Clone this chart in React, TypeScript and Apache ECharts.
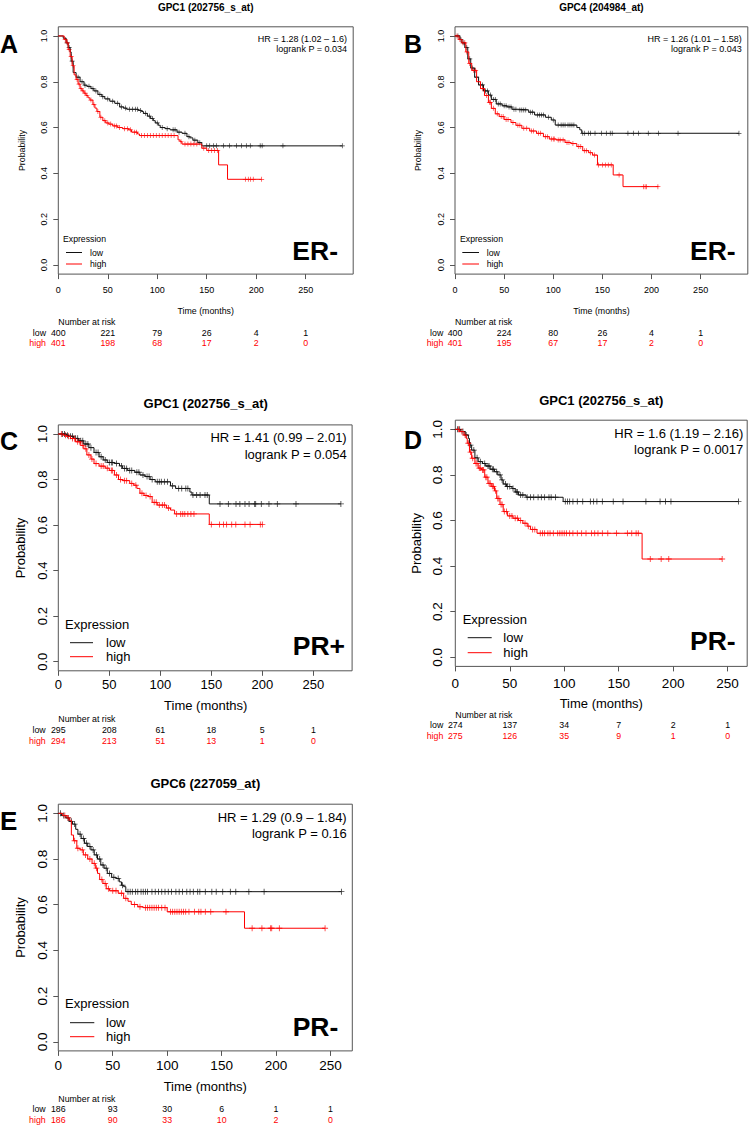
import React, { useEffect, useRef } from "react";
import * as echarts from "echarts";

const FONT = '"Liberation Sans", Arial, Helvetica, sans-serif';
const riskTimes = [0, 50, 100, 150, 200, 250];
const xTicks = [0, 50, 100, 150, 200, 250];
const yTicks = [0, 0.2, 0.4, 0.6, 0.8, 1.0];
const groupNames = ["low", "high"];

// ---------- Panel A : GPC1, ER- ----------
const aTitle = "GPC1 (202756_s_at)";
const aHR = "HR = 1.28 (1.02 – 1.6)";
const aP = "logrank P = 0.034";
const aGroup = "ER-";
const aLowT = [0, 5, 8, 10, 12, 13, 15, 18, 22, 26, 29, 33, 36, 40, 44, 47, 52, 57, 62, 66, 69, 81, 84, 86, 90, 93, 96, 98, 101, 103, 108, 113, 120, 125, 130, 133, 136, 141, 145, 287];
const aLowS = [1, 0.99, 0.97, 0.95, 0.93, 0.89, 0.84, 0.82, 0.8, 0.785, 0.78, 0.77, 0.76, 0.745, 0.735, 0.725, 0.715, 0.706, 0.69, 0.685, 0.68, 0.675, 0.67, 0.662, 0.65, 0.64, 0.63, 0.62, 0.61, 0.6, 0.595, 0.59, 0.58, 0.575, 0.56, 0.555, 0.545, 0.534, 0.52, 0.52];
const aLowC = [9, 11, 14, 20, 24, 27, 31, 35, 38, 42, 45, 50, 55, 60, 64, 68, 72, 75, 78, 80, 83, 88, 92, 95, 100, 105, 110, 116, 118, 122, 128, 132, 138, 143, 150, 153, 157, 160, 167, 173, 180, 185, 190, 194, 204, 206, 227, 287];
const aHighT = [0, 6, 8, 10, 12, 14, 16, 18, 20, 22, 24, 26, 28, 30, 32, 35, 37, 39, 42, 45, 48, 51, 55, 60, 65, 71, 74, 80, 82, 121, 123, 125, 145, 150, 162, 171, 205.5];
const aHighS = [1, 0.985, 0.97, 0.94, 0.91, 0.87, 0.83, 0.81, 0.79, 0.77, 0.76, 0.75, 0.74, 0.73, 0.72, 0.7, 0.685, 0.67, 0.645, 0.63, 0.62, 0.615, 0.607, 0.6, 0.595, 0.59, 0.58, 0.572, 0.565, 0.546, 0.538, 0.528, 0.51, 0.5, 0.437, 0.374, 0.374];
const aHighC = [7, 9, 11, 13, 15, 19, 21, 23, 25, 27, 29, 33, 36, 40, 43, 47, 50, 53, 57, 59, 62, 67, 70, 73, 77, 79, 84, 87, 90, 93, 96, 99, 102, 105, 108, 111, 114, 117, 124, 128, 131, 134, 137, 140, 147, 152, 155, 158, 161, 189, 192, 194.4, 197, 205.5];
const aLowRisk = [400, 221, 79, 26, 4, 1];
const aHighRisk = [401, 198, 68, 17, 2, 0];

// ---------- Panel B : GPC4, ER- ----------
const bTitle = "GPC4 (204984_at)";
const bHR = "HR = 1.26 (1.01 – 1.58)";
const bP = "logrank P = 0.043";
const bGroup = "ER-";
const bLowT = [0, 5, 7, 10, 13, 16, 20, 24, 29, 34, 37, 42, 48, 53, 58, 64, 75, 81, 92, 98, 102, 124, 127, 129, 289];
const bLowS = [1, 0.985, 0.97, 0.95, 0.9, 0.86, 0.82, 0.786, 0.76, 0.742, 0.723, 0.703, 0.695, 0.69, 0.68, 0.677, 0.667, 0.655, 0.645, 0.633, 0.611, 0.6, 0.59, 0.575, 0.575];
const bLowC = [3, 6, 9, 12, 15, 18, 22, 26, 28, 31, 33, 36, 39, 41, 44, 46, 50, 52, 55, 57, 60, 62, 66, 68, 70, 72, 77, 79, 84, 86, 88, 90, 95, 100, 105, 108, 110, 112, 115, 117, 119, 121, 130, 132, 135.7, 138, 142.5, 149, 154, 158, 160, 176, 181.5, 186.6, 196.7, 207, 227, 289];
const bHighT = [0, 4, 7, 11, 14, 17, 22, 26, 30, 34, 37, 41, 45, 50, 57, 62, 68, 76, 83, 90, 96, 103, 112, 118, 124, 130, 136, 140, 145, 161, 171, 207];
const bHighS = [1, 0.985, 0.97, 0.93, 0.88, 0.85, 0.8, 0.77, 0.74, 0.71, 0.684, 0.66, 0.648, 0.635, 0.622, 0.61, 0.597, 0.585, 0.575, 0.56, 0.55, 0.546, 0.535, 0.53, 0.517, 0.499, 0.49, 0.48, 0.437, 0.393, 0.342, 0.342];
const bHighC = [2, 5, 8, 10, 12, 15, 19, 21, 24, 28, 32, 35, 36, 39, 43, 47, 49, 52, 54, 59, 64, 66, 70, 73, 78, 80, 85, 87, 92, 94, 98, 100, 101, 105, 107, 110, 114, 116, 120, 126, 128, 132, 134, 138, 142, 146, 150, 153, 156, 159, 167, 192, 193.5, 195, 206.5];
const bLowRisk = [400, 224, 80, 26, 4, 1];
const bHighRisk = [401, 195, 67, 17, 2, 0];

// ---------- Panel C : GPC1, PR+ ----------
const cTitle = "GPC1 (202756_s_at)";
const cHR = "HR = 1.41 (0.99 – 2.01)";
const cP = "logrank P = 0.054";
const cGroup = "PR+";
const cLowT = [0, 8, 10, 15, 20, 25, 30, 35, 40, 44, 48, 55, 60, 63, 68, 75, 80, 85, 90, 95, 110, 115, 129, 131, 148, 277];
const cLowS = [1, 0.995, 0.99, 0.981, 0.97, 0.956, 0.94, 0.919, 0.9, 0.886, 0.875, 0.871, 0.86, 0.849, 0.84, 0.832, 0.82, 0.813, 0.8, 0.79, 0.772, 0.761, 0.745, 0.732, 0.693, 0.693];
const cLowC = [4, 6, 9, 12, 14, 17, 19, 22, 24, 27, 29, 32, 37, 39, 42, 46, 50, 52, 53, 57, 62, 65, 67, 70, 72, 77, 79, 83, 87, 89, 92, 97, 99, 101, 104, 107, 112, 118, 121, 125, 127, 132, 135.6, 139, 143.8, 146, 158.5, 166.7, 174.2, 178, 183, 187, 192.5, 193.5, 199, 206.5, 214.7, 233, 277];
const cHighT = [0, 5, 8, 12, 17, 22, 25, 28, 32, 35, 40, 46, 50, 55, 59, 63, 70, 74, 77, 80, 84, 88, 92, 97, 106, 110, 114, 148, 200];
const cHighS = [1, 0.995, 0.99, 0.98, 0.966, 0.95, 0.935, 0.908, 0.89, 0.87, 0.859, 0.85, 0.84, 0.82, 0.8, 0.795, 0.783, 0.775, 0.761, 0.74, 0.73, 0.725, 0.7, 0.688, 0.675, 0.666, 0.649, 0.603, 0.603];
const cHighC = [3, 7, 10, 14, 16, 19, 21, 24, 27, 30, 33, 37, 42, 44, 48, 52, 53, 57, 61, 65, 67, 72, 76, 82, 86, 90, 94, 96, 99, 102, 104, 108, 116, 120, 122, 124, 127, 130, 133, 150, 158, 162, 165, 170, 174, 183, 188, 198, 200];
const cLowRisk = [295, 208, 61, 18, 5, 1];
const cHighRisk = [294, 213, 51, 13, 1, 0];

// ---------- Panel D : GPC1, PR- ----------
const dTitle = "GPC1 (202756_s_at)";
const dHR = "HR = 1.6 (1.19 – 2.16)";
const dP = "logrank P = 0.0017";
const dGroup = "PR-";
const dLowT = [0, 5, 9, 12, 13, 15, 18, 21, 25, 28, 32, 36, 39, 42, 44, 47, 52, 55, 58, 65, 99, 260];
const dLowS = [1, 0.99, 0.975, 0.96, 0.931, 0.909, 0.875, 0.858, 0.85, 0.839, 0.825, 0.814, 0.8, 0.778, 0.76, 0.749, 0.74, 0.725, 0.712, 0.702, 0.683, 0.683];
const dLowC = [2, 4, 7, 10, 14, 17, 20, 23, 27, 30, 31, 34, 35, 38, 41, 43, 46, 48, 50, 53, 56, 57, 60, 62, 66, 69, 72, 76, 79, 82, 86, 88, 92, 101, 103, 105, 108, 112, 117, 124, 127, 130, 135, 145, 154, 175, 188, 193, 198, 260];
const dHighT = [0, 4, 8, 10, 11, 13, 15, 18, 21, 24, 27, 30, 33, 36, 38, 41, 44, 48, 53, 58, 62, 66, 69, 75, 171.5, 245];
const dHighS = [1, 0.99, 0.975, 0.96, 0.939, 0.9, 0.873, 0.85, 0.83, 0.822, 0.79, 0.763, 0.75, 0.73, 0.697, 0.67, 0.639, 0.62, 0.61, 0.6, 0.588, 0.575, 0.561, 0.544, 0.431, 0.431];
const dHighC = [3, 6, 9, 12, 14, 16, 19, 20, 22, 23, 25, 26, 28, 29, 31, 32, 34, 35, 37, 39, 40, 42, 43, 45, 47, 50, 52, 55, 57, 60, 64, 67, 71, 73, 78, 80, 82, 85, 87, 90, 94, 96, 98, 100, 102, 105, 108, 112, 116, 120, 125, 128, 131, 135, 140, 148, 158, 162, 166, 168, 179, 189, 196, 245];
const dLowRisk = [274, 137, 34, 7, 2, 1];
const dHighRisk = [275, 126, 35, 9, 1, 0];

// ---------- Panel E : GPC6, PR- ----------
const eTitle = "GPC6 (227059_at)";
const eHR = "HR = 1.29 (0.9 – 1.84)";
const eP = "logrank P = 0.16";
const eGroup = "PR-";
const eLowT = [0, 3, 7, 10, 13, 16, 18, 21, 24, 27, 30, 33, 36, 39, 42, 45, 49, 53, 56, 58, 60, 62, 260];
const eLowS = [1, 0.99, 0.98, 0.965, 0.953, 0.93, 0.909, 0.89, 0.869, 0.855, 0.84, 0.818, 0.8, 0.774, 0.76, 0.737, 0.72, 0.715, 0.7, 0.685, 0.679, 0.657, 0.657];
const eLowC = [2, 5, 9, 12, 15, 20, 23, 26, 29, 32, 35, 38, 41, 44, 47, 51, 55, 59, 64, 66, 68, 71, 73, 76, 78, 80, 82, 86, 89, 92, 95, 98, 101, 104, 108, 111, 114, 118, 121, 124, 128, 130, 135, 141, 145, 151, 158, 163, 175, 189, 260];
const eHighT = [0, 4, 8, 10, 12, 14, 17, 20, 23, 27, 31, 34, 36, 38, 41, 44, 47, 55, 60, 64, 67, 73, 78, 100, 171, 245];
const eHighS = [1, 0.99, 0.98, 0.97, 0.905, 0.88, 0.847, 0.84, 0.818, 0.8, 0.781, 0.76, 0.737, 0.71, 0.693, 0.67, 0.661, 0.65, 0.628, 0.615, 0.601, 0.591, 0.587, 0.569, 0.497, 0.497];
const eHighC = [6, 9, 15, 18, 22, 25, 29, 33, 35, 40, 43, 46, 50, 53, 58, 62, 70, 75, 80, 82, 84, 86, 88, 90, 92, 95, 98, 103, 105, 107, 109, 111, 113, 115, 117, 120, 125, 129, 131, 135, 140, 154, 178, 187, 195, 196, 203, 245];
const eLowRisk = [186, 93, 30, 6, 1, 1];
const eHighRisk = [186, 90, 33, 10, 2, 0];

// ---------- layout (positions / sizes only) ----------
const layouts = [
  { grid: { left: 58.3, top: 26.8, width: 294.9, height: 247.3 }, xMax: 298, tickFs: 9, yMargin: 10, xMargin: 11, cens: 5,
    letter: { x: 0, y: 44, fs: 25 }, title: { x: 205.7, y: 7, fs: 10 }, hr: { x: 347, y1: 39, y2: 49, fs: 9 },
    prob: { x: 22, y: 150.5, fs: 8.8 }, time: { x: 205.7, y: 311, fs: 8.8 }, nar: { x: 58.3, y: 322, fs: 8.8 },
    risk: { y1: 332.5, y2: 343, lx: 46, fs: 8.8 }, leg: { x: 63, y: 239, lx1: 66, lx2: 82, ly1: 252.5, ly2: 264, tx: 90, fs: 8.7 },
    grp: { x: 338, y: 251, fs: 26.5 } },
  { grid: { left: 455, top: 26.8, width: 292.8, height: 247.3 }, xMax: 298, tickFs: 9, yMargin: 10, xMargin: 11, cens: 5,
    letter: { x: 404, y: 44, fs: 25 }, title: { x: 601.4, y: 7, fs: 10 }, hr: { x: 741.7, y1: 39, y2: 49, fs: 9 },
    prob: { x: 418.3, y: 150.5, fs: 8.8 }, time: { x: 601.4, y: 311, fs: 8.8 }, nar: { x: 455, y: 322, fs: 8.8 },
    risk: { y1: 332.5, y2: 343, lx: 443.3, fs: 8.8 }, leg: { x: 460, y: 239, lx1: 462.3, lx2: 479, ly1: 252.5, ly2: 264, tx: 486.7, fs: 8.7 },
    grp: { x: 735.7, y: 251, fs: 26.5 } },
  { grid: { left: 58.3, top: 424.9, width: 293.8, height: 245.9 }, xMax: 288, tickFs: 13, yMargin: 9, xMargin: 7, cens: 6,
    letter: { x: 0, y: 441, fs: 25 }, title: { x: 205.7, y: 403, fs: 13 }, hr: { x: 346.7, y1: 437.7, y2: 454, fs: 13 },
    prob: { x: 20, y: 548, fs: 13 }, time: { x: 205.7, y: 705, fs: 13 }, nar: { x: 58.3, y: 719, fs: 8.8 },
    risk: { y1: 730, y2: 740.7, lx: 45.7, fs: 8.8 }, leg: { x: 65, y: 624, lx1: 70, lx2: 93, ly1: 642.7, ly2: 656.7, tx: 106, fs: 13 },
    grp: { x: 345, y: 646, fs: 26.5 } },
  { grid: { left: 455.3, top: 420.2, width: 291.9, height: 246.2 }, xMax: 268, tickFs: 13.5, yMargin: 10.5, xMargin: 10, cens: 6,
    letter: { x: 404, y: 440, fs: 25 }, title: { x: 601.3, y: 400, fs: 13 }, hr: { x: 743.3, y1: 433.3, y2: 449.3, fs: 13 },
    prob: { x: 416.7, y: 543.3, fs: 13 }, time: { x: 601.3, y: 703.3, fs: 13 }, nar: { x: 455.3, y: 715, fs: 8.8 },
    risk: { y1: 725, y2: 735.7, lx: 443.3, fs: 8.8 }, leg: { x: 462.7, y: 619.3, lx1: 467.7, lx2: 491.7, ly1: 637.7, ly2: 652.7, tx: 503.3, fs: 13 },
    grp: { x: 735.7, y: 641, fs: 26.5 } },
  { grid: { left: 58.3, top: 804.2, width: 294, height: 246.7 }, xMax: 270, tickFs: 13.5, yMargin: 9, xMargin: 8, cens: 6,
    letter: { x: 0, y: 821, fs: 26 }, title: { x: 205.3, y: 783.3, fs: 13 }, hr: { x: 346.7, y1: 817.7, y2: 833.3, fs: 13 },
    prob: { x: 20, y: 927.5, fs: 13 }, time: { x: 205.3, y: 1086.7, fs: 13 }, nar: { x: 58.3, y: 1099, fs: 8.8 },
    risk: { y1: 1109.3, y2: 1120, lx: 45.7, fs: 8.8 }, leg: { x: 65, y: 1003.3, lx1: 70, lx2: 94.3, ly1: 1022.7, ly2: 1036.7, tx: 106, fs: 13 },
    grp: { x: 338.3, y: 1027.3, fs: 26.5 } },
];

const panels = [
  { letter: "A", title: aTitle, hr: aHR, p: aP, group: aGroup, lowT: aLowT, lowS: aLowS, lowC: aLowC, highT: aHighT, highS: aHighS, highC: aHighC, lowRisk: aLowRisk, highRisk: aHighRisk },
  { letter: "B", title: bTitle, hr: bHR, p: bP, group: bGroup, lowT: bLowT, lowS: bLowS, lowC: bLowC, highT: bHighT, highS: bHighS, highC: bHighC, lowRisk: bLowRisk, highRisk: bHighRisk },
  { letter: "C", title: cTitle, hr: cHR, p: cP, group: cGroup, lowT: cLowT, lowS: cLowS, lowC: cLowC, highT: cHighT, highS: cHighS, highC: cHighC, lowRisk: cLowRisk, highRisk: cHighRisk },
  { letter: "D", title: dTitle, hr: dHR, p: dP, group: dGroup, lowT: dLowT, lowS: dLowS, lowC: dLowC, highT: dHighT, highS: dHighS, highC: dHighC, lowRisk: dLowRisk, highRisk: dHighRisk },
  { letter: "E", title: eTitle, hr: eHR, p: eP, group: eGroup, lowT: eLowT, lowS: eLowS, lowC: eLowC, highT: eHighT, highS: eHighS, highC: eHighC, lowRisk: eLowRisk, highRisk: eHighRisk },
];

const LOW_COLOR = "#111111";
const HIGH_COLOR = "#ff0000";
const BOX_COLOR = "#555555";
const PLUS = "path://M-1,-0.14H1V0.14H-1Z M-0.14,-1H0.14V1H-0.14Z";

function survAt(T: number[], S: number[], t: number) {
  let v = S[0];
  for (let i = 0; i < T.length; i++) if (T[i] <= t) v = S[i];
  return v;
}

function txt(x: number, y: number, text: string, fs: number, opts: any = {}) {
  const align = opts.align || "left";
  return {
    type: "text",
    x,
    y,
    rotation: opts.rotation || 0,
    silent: true,
    style: {
      text,
      fill: opts.color || "#000",
      font: `${opts.bold ? "bold " : ""}${fs}px ${FONT}`,
      align,
      verticalAlign: "middle",
      textAlign: align,
      textVerticalAlign: "middle",
    },
  };
}

export default function App() {
  const ref = useRef<HTMLDivElement>(null);
  useEffect(() => {
    if (!ref.current) return;
    const chart = echarts.init(ref.current, undefined, { renderer: "svg" });
    const grids: any[] = [];
    const xAxes: any[] = [];
    const yAxes: any[] = [];
    const series: any[] = [];
    panels.forEach((p, i) => {
      const L = layouts[i];
      grids.push({ ...L.grid, show: true, borderColor: BOX_COLOR, borderWidth: 1, backgroundColor: "transparent", containLabel: false });
      xAxes.push({
        type: "value", gridIndex: i, min: 0, max: L.xMax, position: "bottom",
        axisLine: { show: false, onZero: false },
        axisTick: { show: true, length: 5, lineStyle: { color: BOX_COLOR }, customValues: xTicks },
        axisLabel: { customValues: xTicks, color: "#000", fontFamily: FONT, fontSize: L.tickFs, margin: L.xMargin },
        splitLine: { show: false },
      });
      yAxes.push({
        type: "value", gridIndex: i, min: -0.04, max: 1.04, position: "left",
        axisLine: { show: false, onZero: false },
        axisTick: { show: true, length: 5, lineStyle: { color: BOX_COLOR }, customValues: yTicks },
        axisLabel: { customValues: yTicks, rotate: 90, color: "#000", fontFamily: FONT, fontSize: L.tickFs, margin: L.yMargin, formatter: (v: number) => v.toFixed(1) },
        splitLine: { show: false },
      });
      const groups = [
        { T: p.lowT, S: p.lowS, C: p.lowC, color: LOW_COLOR, name: groupNames[0] },
        { T: p.highT, S: p.highS, C: p.highC, color: HIGH_COLOR, name: groupNames[1] },
      ];
      groups.forEach((g) => {
        series.push({
          type: "line", name: g.name, xAxisIndex: i, yAxisIndex: i, step: "end", symbol: "none",
          lineStyle: { color: g.color, width: 1 }, data: g.T.map((t, k) => [t, g.S[k]]), silent: true,
        });
        series.push({
          type: "scatter", name: g.name + " censored", xAxisIndex: i, yAxisIndex: i, symbol: PLUS, symbolSize: L.cens,
          itemStyle: { color: g.color }, data: g.C.map((c) => [c, survAt(g.T, g.S, c)]), silent: true,
        });
      });
    });
    chart.setOption({ animation: false, grid: grids, xAxis: xAxes, yAxis: yAxes, series });

    const graphics: any[] = [];
    panels.forEach((p, i) => {
      const L = layouts[i];
      graphics.push(txt(L.letter.x, L.letter.y, p.letter, L.letter.fs, { bold: true }));
      graphics.push(txt(L.title.x, L.title.y, p.title, L.title.fs, { bold: true, align: "center" }));
      graphics.push(txt(L.hr.x, L.hr.y1, p.hr, L.hr.fs, { align: "right" }));
      graphics.push(txt(L.hr.x, L.hr.y2, p.p, L.hr.fs, { align: "right" }));
      graphics.push(txt(L.prob.x, L.prob.y, "Probability", L.prob.fs, { align: "center", rotation: Math.PI / 2 }));
      graphics.push(txt(L.time.x, L.time.y, "Time (months)", L.time.fs, { align: "center" }));
      graphics.push(txt(L.nar.x, L.nar.y, "Number at risk", L.nar.fs));
      graphics.push(txt(L.risk.lx, L.risk.y1, groupNames[0], L.risk.fs, { align: "right" }));
      graphics.push(txt(L.risk.lx, L.risk.y2, groupNames[1], L.risk.fs, { align: "right", color: HIGH_COLOR }));
      riskTimes.forEach((t, k) => {
        const px = chart.convertToPixel({ xAxisIndex: i } as any, t) as unknown as number;
        graphics.push(txt(px, L.risk.y1, String(p.lowRisk[k]), L.risk.fs, { align: "center" }));
        graphics.push(txt(px, L.risk.y2, String(p.highRisk[k]), L.risk.fs, { align: "center", color: HIGH_COLOR }));
      });
      graphics.push(txt(L.leg.x, L.leg.y, "Expression", L.leg.fs));
      graphics.push({ type: "line", silent: true, shape: { x1: L.leg.lx1, y1: L.leg.ly1, x2: L.leg.lx2, y2: L.leg.ly1 }, style: { stroke: LOW_COLOR, lineWidth: 1 } });
      graphics.push({ type: "line", silent: true, shape: { x1: L.leg.lx1, y1: L.leg.ly2, x2: L.leg.lx2, y2: L.leg.ly2 }, style: { stroke: HIGH_COLOR, lineWidth: 1 } });
      graphics.push(txt(L.leg.tx, L.leg.ly1, groupNames[0], L.leg.fs));
      graphics.push(txt(L.leg.tx, L.leg.ly2, groupNames[1], L.leg.fs));
      graphics.push(txt(L.grp.x, L.grp.y, p.group, L.grp.fs, { bold: true, align: "right" }));
    });
    chart.setOption({ graphic: graphics });
    return () => chart.dispose();
  }, []);
  return <div ref={ref} style={{ position: "absolute", left: 0, top: 0, width: 751, height: 1125, background: "#fff" }} />;
}
